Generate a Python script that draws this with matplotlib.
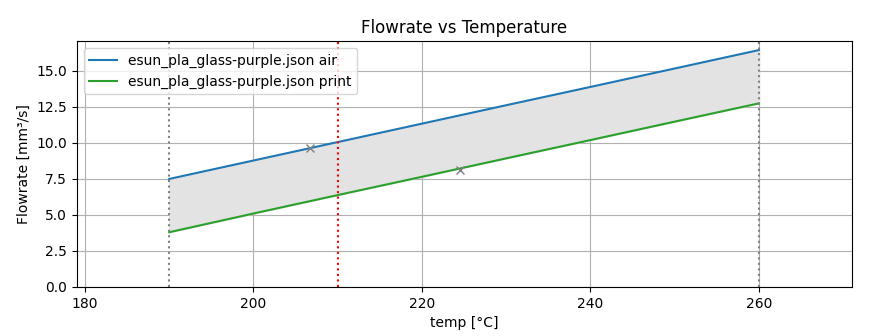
import matplotlib
matplotlib.use("Agg")
import matplotlib.pyplot as plt

# temperatures and flowrates
temps = [190, 200, 210, 220, 230, 240, 250, 260]
air_flow = [7.5, 8.78, 10.06, 11.34, 12.62, 13.89, 15.17, 16.45]
print_flow = [3.8, 5.1, 6.38, 7.65, 8.93, 10.2, 11.48, 12.75]
marks_t = [206.7, 224.5]
marks_f = [9.65, 8.15]
label_air = "esun_pla_glass-purple.json air"
label_print = "esun_pla_glass-purple.json print"

fig = plt.figure(figsize=(8.95, 3.36), dpi=100)
ax = fig.add_axes([0.086, 0.146, 0.866, 0.732])

ax.fill_between(temps, print_flow, air_flow, color="#e3e3e3")
ax.plot(temps, air_flow, color="tab:blue", label=label_air)
ax.plot(temps, print_flow, color="tab:green", label=label_print)
ax.axvline(temps[0], color="gray", linestyle=":")
ax.axvline(temps[-1], color="gray", linestyle=":")
ax.axvline(210, color="red", linestyle=":")
ax.plot(marks_t, marks_f, "x", color="gray")

ax.set_xlim(179.05, 271.05)
ax.set_ylim(0, 17.08)
ax.grid(True, color="#b0b0b0")
ax.set_axisbelow(True)
ax.set_xlabel("temp [°C]")
ax.set_ylabel("Flowrate [mm³/s]")
ax.set_title("Flowrate vs Temperature")
ax.legend(loc="upper left")

plt.savefig("out.png")
